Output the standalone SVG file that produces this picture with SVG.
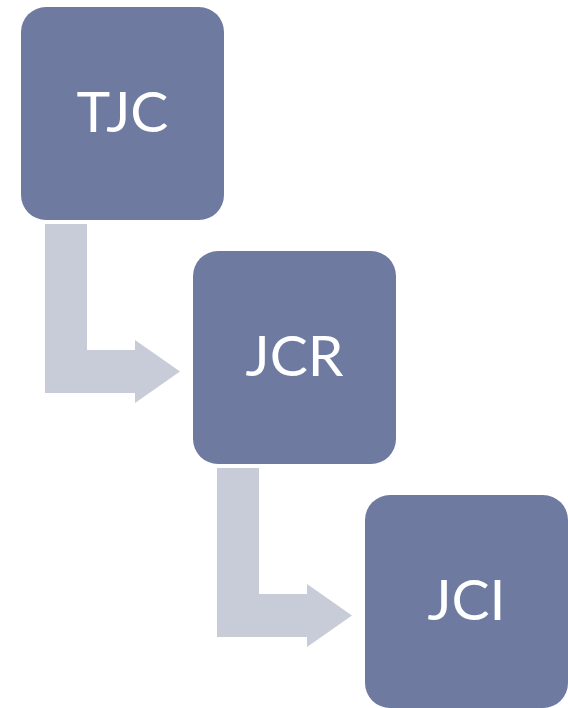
<svg xmlns="http://www.w3.org/2000/svg" width="568" height="708" viewBox="0 0 568 708">
<style>
.box{fill:#6E7AA0;}
.arr{fill:#C8CCD9;}
.lbl{fill:#FFFFFF;font-family:Lato,"Open Sans","Liberation Sans",sans-serif;font-size:57px;text-anchor:middle;}
</style>
<rect width="568" height="708" fill="#FFFFFF"/>
<g id="connectors">
<path class="arr" d="M45,224 H87 V350 H135 V340 L180,371.5 L135,403 V393 H45 Z"/>
<path class="arr" d="M217,468 H259 V594 H307 V584 L352,615.5 L307,647 V637 H217 Z"/>
</g>
<g id="node-tjc">
<rect class="box" x="21" y="7" width="203" height="213" rx="25"/>
<text class="lbl" x="122.5" y="132">TJC</text>
</g>
<g id="node-jcr">
<rect class="box" x="193" y="251" width="203" height="213" rx="25"/>
<text class="lbl" x="294.5" y="376">JCR</text>
</g>
<g id="node-jci">
<rect class="box" x="365" y="495" width="203" height="213" rx="25"/>
<text class="lbl" x="466.5" y="620">JCI</text>
</g>
</svg>
